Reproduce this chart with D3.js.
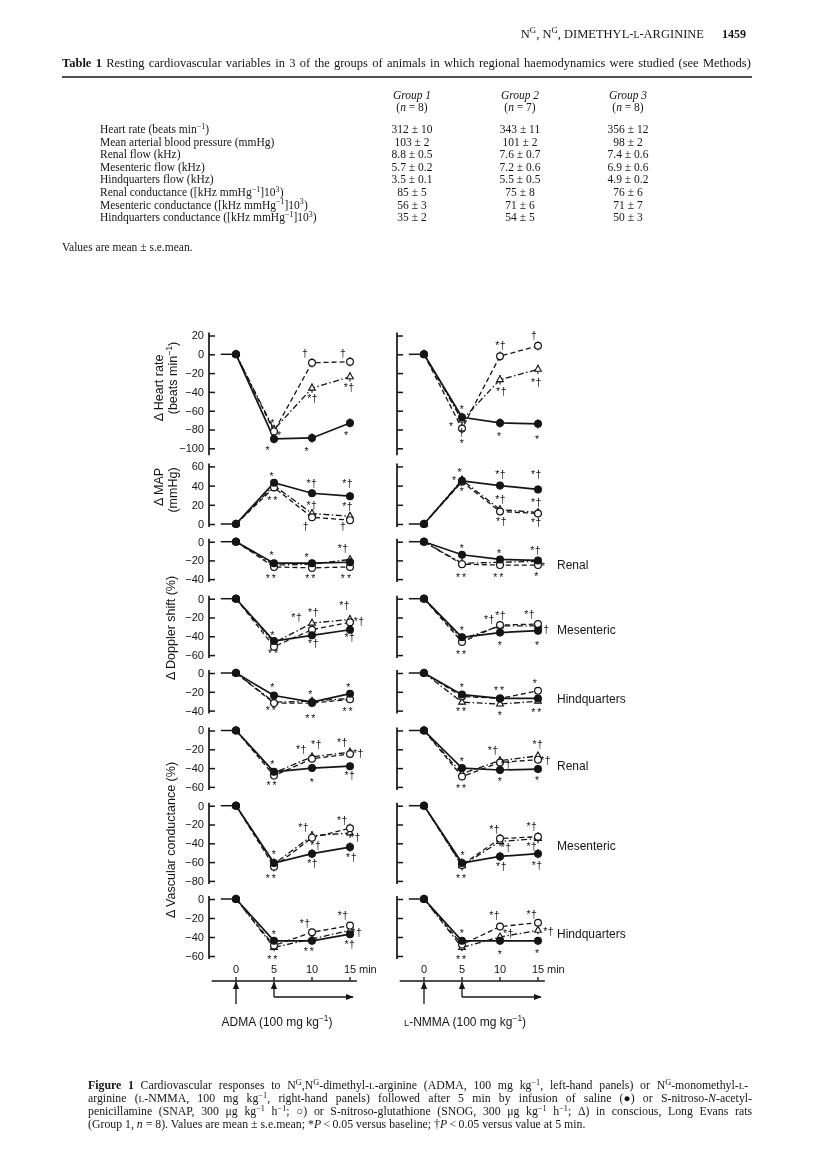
<!DOCTYPE html>
<html>
<head>
<meta charset="utf-8">
<script src="https://cdn.jsdelivr.net/npm/d3@7"></script>
<style>
    body { margin: 0; background: #fff; }
    svg { will-change: transform; }
    svg text { fill: #151515; }
    .serif { font-family: "Liberation Serif", "Times New Roman", serif; }
    .sans { font-family: "Liberation Sans", Arial, Helvetica, sans-serif; }
</style>
</head>
<body>
<svg id="page" width="816" height="1174"></svg>
<script>
// ---- table 1 ----
const rowLabels = [
    "Heart rate (beats min<sup>−1</sup>)",
    "Mean arterial blood pressure (mmHg)",
    "Renal flow (kHz)",
    "Mesenteric flow (kHz)",
    "Hindquarters flow (kHz)",
    "Renal conductance ([kHz mmHg<sup>−1</sup>]10<sup>3</sup>)",
    "Mesenteric conductance ([kHz mmHg<sup>−1</sup>]10<sup>3</sup>)",
    "Hindquarters conductance ([kHz mmHg<sup>−1</sup>]10<sup>3</sup>)"
];
const rowDecimals = [0, 0, 1, 1, 1, 0, 0, 0];
const groupNames = ["Group 1", "Group 2", "Group 3"];
const groupN = [8, 7, 8];
const g1Mean = [312, 103, 8.8, 5.7, 3.5, 85, 56, 35];
const g1Sem  = [10, 2, 0.5, 0.2, 0.1, 5, 3, 2];
const g2Mean = [343, 101, 7.6, 7.2, 5.5, 75, 71, 54];
const g2Sem  = [11, 2, 0.7, 0.6, 0.5, 8, 6, 5];
const g3Mean = [356, 98, 7.4, 6.9, 4.9, 76, 71, 50];
const g3Sem  = [12, 2, 0.6, 0.6, 0.2, 6, 7, 3];

// ---- figure 1 ----
const times = [0, 5, 10, 15];
const panelNames = ["Heart rate", "MAP", "Renal Doppler", "Mesenteric Doppler", "Hindquarters Doppler",
    "Renal conductance", "Mesenteric conductance", "Hindquarters conductance"];
const panelDomains = [[-100, 20], [0, 60], [-40, 0], [-60, 0], [-40, 0], [-60, 0], [-80, 0], [-60, 0]];
const panelTicks = [
    [20, 0, -20, -40, -60, -80, -100], [60, 40, 20, 0], [0, -20, -40], [0, -20, -40, -60],
    [0, -20, -40], [0, -20, -40, -60], [0, -20, -40, -60, -80], [0, -20, -40, -60]
];
const regionNames = ["", "", "Renal", "Mesenteric", "Hindquarters", "Renal", "Mesenteric", "Hindquarters"];

// each panel: [saline, SNAP, SNOG] at 0, 5, 10, 15 min
const admaHR     = [[0, -90, -89, -73], [0, -82, -9, -8], [0, -80, -36, -24]];
const admaMAP    = [[0, 43, 32, 29], [0, 38, 7, 4], [0, 40, 11, 8]];
const admaRenalD = [[0, -23, -23, -22], [0, -27, -28, -27], [0, -25, -24, -19]];
const admaMesD   = [[0, -45, -39, -33], [0, -51, -33, -25], [0, -47, -26, -22]];
const admaHqD    = [[0, -24, -31, -22], [0, -32, -32, -28], [0, -31, -30, -27]];
const admaRenalC = [[0, -44, -40, -38], [0, -48, -30, -25], [0, -45, -28, -23]];
const admaMesC   = [[0, -61, -51, -44], [0, -65, -34, -24], [0, -62, -32, -29]];
const admaHqC    = [[0, -44, -44, -37], [0, -49, -35, -28], [0, -51, -42, -33]];

const nmmaHR     = [[0, -67, -73, -74], [0, -79, -2, 9], [0, -70, -27, -16]];
const nmmaMAP    = [[0, 45, 40, 36], [0, 44, 13, 11], [0, 46, 15, 12]];
const nmmaRenalD = [[0, -14, -19, -20], [0, -24, -25, -25], [0, -23, -22, -21]];
const nmmaMesD   = [[0, -41, -36, -34], [0, -46, -28, -27], [0, -43, -29, -29]];
const nmmaHqD    = [[0, -23, -27, -27], [0, -25, -27, -19], [0, -31, -33, -30]];
const nmmaRenalC = [[0, -40, -42, -41], [0, -49, -34, -31], [0, -46, -32, -27]];
const nmmaMesC   = [[0, -61, -54, -51], [0, -63, -35, -33], [0, -64, -38, -35]];
const nmmaHqC    = [[0, -44, -44, -44], [0, -48, -29, -25], [0, -51, -40, -33]];

// s.e.mean (one typical value per panel)
const admaSem = [5, 4, 3, 4, 3, 4, 5, 4];
const nmmaSem = [5, 4, 3, 4, 3, 4, 5, 4];

// significance symbols: [label, time, value]
const admaMarks = [
    [["*", 4.8, -70], ["*", 5.7, -83], ["*", 4.2, -99], ["†", 9.1, 1], ["*†", 10.1, -47], ["*", 9.3, -100], ["†", 14.1, 1], ["*†", 14.9, -35], ["*", 14.5, -83]],
    [["*", 4.7, 53], ["**", 4.9, 28], ["*†", 10, 43], ["*†", 10, 20], ["†", 9.2, -2], ["*†", 14.7, 43], ["*†", 14.7, 19], ["†", 14.1, -2]],
    [["*", 4.7, -12], ["**", 4.7, -36], ["*", 9.3, -14], ["**", 9.9, -36], ["*†", 14.1, -7], ["**", 14.6, -36]],
    [["*", 4.8, -36], ["**", 5, -55], ["*†", 8, -20], ["*†", 10.2, -14], ["*†", 10.2, -47], ["*†", 14.3, -7], ["*†", 16.2, -24], ["*†", 15, -41]],
    [["*", 4.8, -12], ["**", 4.7, -37], ["*", 9.8, -20], ["**", 9.9, -45], ["*", 14.8, -12], ["**", 14.8, -38]],
    [["*", 4.8, -33], ["**", 4.8, -55], ["*†", 8.6, -20], ["*†", 10.6, -15], ["*", 10, -52], ["*†", 14, -12], ["*†", 16.1, -24], ["*†", 15, -48]],
    [["*", 5, -49], ["**", 4.7, -74], ["*†", 8.9, -23], ["*†", 10.5, -42], ["*†", 10.1, -61], ["*†", 14, -15], ["*†", 15.7, -33], ["*†", 15.2, -55]],
    [["*", 5, -34], ["**", 4.9, -60], ["*†", 9.1, -26], ["**", 9.7, -52], ["*†", 14.1, -17], ["*†", 15.9, -35], ["*†", 15, -48]]
];
const nmmaMarks = [
    [["*", 5, -56], ["*", 3.6, -74], ["†", 5, -83], ["*", 5, -92], ["*†", 10.1, 10], ["*†", 10.2, -39], ["*", 9.9, -84], ["†", 14.5, 20], ["*†", 14.8, -30], ["*", 14.9, -87]],
    [["*", 4.7, 57], ["*", 4, 48], ["*", 5, 37], ["*†", 10.1, 52], ["*†", 10.1, 26], ["*†", 10.2, 3], ["*†", 14.8, 52], ["*†", 14.8, 23], ["*†", 14.8, 2]],
    [["*", 5, -4], ["**", 5, -35], ["*", 9.9, -9], ["**", 9.9, -35], ["*†", 14.7, -9], ["*", 15.7, -23], ["*", 14.8, -34]],
    [["*", 5, -31], ["**", 5, -56], ["*†", 8.6, -22], ["*†", 10.1, -18], ["*", 10, -47], ["*†", 13.9, -17], ["*†", 15.8, -32], ["*", 14.9, -47]],
    [["*", 5, -12], ["**", 5, -38], ["**", 10, -15], ["*", 10, -42], ["*", 14.6, -8], ["**", 14.9, -39]],
    [["*", 5, -30], ["**", 5, -58], ["*†", 9.1, -21], ["*†", 10.8, -36], ["*", 10, -51], ["*†", 15, -15], ["*†", 16, -32], ["*", 14.9, -50]],
    [["*", 5.1, -50], ["**", 5, -74], ["*†", 9.3, -25], ["*†", 10.8, -44], ["*†", 10.2, -64], ["*†", 14.2, -22], ["*†", 14.2, -43], ["*†", 14.9, -63]],
    [["*", 5, -33], ["**", 5, -60], ["*†", 9.3, -17], ["*†", 11.1, -36], ["*", 10, -55], ["*†", 14.2, -16], ["*†", 16.4, -34], ["*", 14.9, -54]]
];

// ---------------- layout ----------------
const svg = d3.select("#page");
const ink = "#151515";

// tiny markup: <b> <i> <sup> <sc>
function rich(text, markup, size) {
    const st = { b: 0, i: 0, sup: 0, sc: 0 };
    let shift = 0;
    markup.split(/(<\/?(?:b|i|sup|sc)>)/).forEach(p => {
        const m = p.match(/^<(\/?)(b|i|sup|sc)>$/);
        if (m) { st[m[2]] += m[1] ? -1 : 1; return; }
        if (!p) return;
        const want = st.sup ? -size * 0.38 : 0;
        const ts = text.append("tspan").text(st.sc ? p.toUpperCase() : p);
        if (want !== shift) { ts.attr("dy", want - shift); shift = want; }
        if (st.b) ts.attr("font-weight", "bold");
        if (st.i) ts.attr("font-style", "italic");
        if (st.sup) ts.attr("font-size", size * 0.7);
        else if (st.sc) ts.attr("font-size", size * 0.78);
    });
    return text;
}

// stretch word gaps so a line fills the given width
function justify(text, width) {
    const nat = text.node().getComputedTextLength();
    const gaps = (text.text().match(/ /g) || []).length;
    if (gaps) text.attr("word-spacing", (width - nat) / gaps);
}

// page header
const head = svg.append("g").attr("class", "serif");
rich(head.append("text").attr("x", 704).attr("y", 38).attr("text-anchor", "end").attr("font-size", 12.5),
    "N<sup>G</sup>, N<sup>G</sup>, DIMETHYL-<sc>l</sc>-ARGININE", 12.5);
head.append("text").attr("x", 746).attr("y", 38).attr("text-anchor", "end")
    .attr("font-size", 12).attr("font-weight", "bold").text("1459");

// table
const tbl = svg.append("g").attr("class", "serif");
const ttl = rich(tbl.append("text").attr("x", 62).attr("y", 67).attr("font-size", 12.5),
    "<b>Table 1</b>  Resting cardiovascular variables in 3 of the groups of animals in which regional haemodynamics were studied (see Methods)", 12.5);
justify(ttl, 690);
tbl.append("line").attr("x1", 62).attr("x2", 752).attr("y1", 77).attr("y2", 77)
    .attr("stroke", ink).attr("stroke-width", 1.4);

const col = d3.scalePoint().domain(groupNames).range([412, 628]);
const row = d3.scaleLinear().domain([0, 1]).range([133, 145.6]);
groupNames.forEach((g, j) => {
    tbl.append("text").attr("x", col(g)).attr("y", 99).attr("text-anchor", "middle")
        .attr("font-size", 11.5).attr("font-style", "italic").text(g);
    rich(tbl.append("text").attr("x", col(g)).attr("y", 111).attr("text-anchor", "middle").attr("font-size", 11.5),
        `(<i>n</i> = ${groupN[j]})`, 11.5);
});
const means = [g1Mean, g2Mean, g3Mean], sems = [g1Sem, g2Sem, g3Sem];
rowLabels.forEach((lab, r) => {
    rich(tbl.append("text").attr("x", 100).attr("y", row(r)).attr("font-size", 11.5), lab, 11.5);
    groupNames.forEach((g, j) => {
        const f = d3.format(`.${rowDecimals[r]}f`);
        tbl.append("text").attr("x", col(g)).attr("y", row(r)).attr("text-anchor", "middle")
            .attr("font-size", 11.5).text(`${f(means[j][r])} ± ${f(sems[j][r])}`);
    });
});
tbl.append("text").attr("x", 62).attr("y", 251).attr("font-size", 11.5).text("Values are mean ± s.e.mean.");

// ---- figure ----
const fig = svg.append("g").attr("class", "sans");
const xLeft = d3.scaleLinear().domain([0, 15]).range([236, 350]);
const xRight = d3.scaleLinear().domain([0, 15]).range([424, 538]);
const zeroY = [354.3, 524, 541.7, 598.7, 673, 730.5, 805.7, 899];
const pxPerUnit = [0.94, 0.96, 0.935, 0.94, 0.94, 0.94, 0.94, 0.95];
const regionLabelAt = [0, 0, -25, -33, -27, -37, -42, -36];
const seriesDash = [null, "5,3", "6,2.5,1.5,2.5"];
const minus = d => d < 0 ? "−" + Math.abs(d) : String(d);

const sides = [
    { x: xLeft, axisX: 209, labels: true, sem: admaSem, marks: admaMarks,
      data: [admaHR, admaMAP, admaRenalD, admaMesD, admaHqD, admaRenalC, admaMesC, admaHqC],
      drug: "ADMA (100 mg kg<sup>−1</sup>)" },
    { x: xRight, axisX: 397, labels: false, sem: nmmaSem, marks: nmmaMarks,
      data: [nmmaHR, nmmaMAP, nmmaRenalD, nmmaMesD, nmmaHqD, nmmaRenalC, nmmaMesC, nmmaHqC],
      drug: "<sc>l</sc>-NMMA (100 mg kg<sup>−1</sup>)" }
];

const defs = svg.append("defs");
defs.append("marker").attr("id", "ah").attr("viewBox", "0 0 10 10").attr("refX", 9).attr("refY", 5)
    .attr("markerWidth", 6).attr("markerHeight", 6).attr("orient", "auto")
    .append("path").attr("d", "M0,1L10,5L0,9z").attr("fill", ink);

sides.forEach(side => {
    const x = side.x;
    panelNames.forEach((name, p) => {
        const y = d3.scaleLinear().domain([0, 1]).range([zeroY[p], zeroY[p] - pxPerUnit[p]]);
        const [lo, hi] = d3.extent(panelDomains[p]);
        const g = fig.append("g").attr("class", "panel");

        g.append("line").attr("x1", side.axisX).attr("x2", side.axisX)
            .attr("y1", y(hi) - 3).attr("y2", y(lo) + (p === 0 ? 7 : 3))
            .attr("stroke", ink).attr("stroke-width", 1.7);
        const ax = g.append("g").attr("transform", `translate(${side.axisX},0)`)
            .call(d3.axisRight(y).tickValues(panelTicks[p]).tickSize(6).tickSizeOuter(0).tickFormat(""));
        ax.select(".domain").remove();
        ax.selectAll(".tick line").attr("stroke", ink).attr("stroke-width", 1.5);

        if (side.labels) {
            g.selectAll(".tl").data(panelTicks[p]).enter().append("text")
                .attr("x", side.axisX - 5).attr("y", d => y(d)).attr("dy", "0.36em")
                .attr("text-anchor", "end").attr("font-size", 11).text(minus);
        } else if (regionNames[p]) {
            g.append("text").attr("x", 557).attr("y", y(regionLabelAt[p])).attr("dy", "0.36em")
                .attr("font-size", 12).text(regionNames[p]);
        }

        // baseline lead-in before time 0
        g.append("line").attr("x1", x(-2)).attr("x2", x(0)).attr("y1", y(0)).attr("y2", y(0))
            .attr("stroke", ink).attr("stroke-width", 1.5);

        const line = d3.line().x(d => x(d.t)).y(d => y(d.v));
        [2, 1, 0].forEach(s => {
            const pts = times.map((t, i) => ({ t, v: side.data[p][s][i] }));
            g.append("path").datum(pts).attr("d", line).attr("fill", "none")
                .attr("stroke", ink).attr("stroke-width", s === 0 ? 1.7 : 1.3)
                .attr("stroke-dasharray", seriesDash[s]);
            g.selectAll(null).data(pts.slice(1)).enter().append("line")
                .attr("x1", d => x(d.t)).attr("x2", d => x(d.t))
                .attr("y1", d => y(d.v - side.sem[p])).attr("y2", d => y(d.v + side.sem[p]))
                .attr("stroke", ink).attr("stroke-width", 1.1);
        });
        [2, 1, 0].forEach(s => {
            const pts = times.map((t, i) => ({ t, v: side.data[p][s][i] }));
            const m = g.selectAll(null).data(pts).enter();
            if (s === 2) {
                m.append("path").attr("d", d3.symbol(d3.symbolTriangle, 20))
                    .attr("transform", d => `translate(${x(d.t)},${y(d.v)})`)
                    .attr("fill", "#fff").attr("stroke", ink).attr("stroke-width", 1.1);
            } else {
                m.append("circle").attr("cx", d => x(d.t)).attr("cy", d => y(d.v)).attr("r", 3.4)
                    .attr("fill", s === 0 ? ink : "#fff").attr("stroke", ink).attr("stroke-width", 1.2);
            }
        });

        g.selectAll(".sig").data(side.marks[p]).enter().append("text")
            .attr("x", d => x(d[1])).attr("y", d => y(d[2]))
            .attr("dy", d => d[0].includes("†") ? "0.36em" : "0.62em")
            .attr("text-anchor", "middle").attr("font-size", 10.5)
            .attr("letter-spacing", d => d[0] === "**" ? 2 : 0.5)
            .text(d => d[0]);
    });

    // time axis with drug / infusion arrows
    const axY = 981;
    const t = fig.append("g");
    t.append("line").attr("x1", x(-3.2)).attr("x2", x(15.9)).attr("y1", axY).attr("y2", axY)
        .attr("stroke", ink).attr("stroke-width", 1.5);
    times.forEach(tt => {
        t.append("line").attr("x1", x(tt)).attr("x2", x(tt)).attr("y1", axY - 4).attr("y2", axY)
            .attr("stroke", ink).attr("stroke-width", 1.3);
        t.append("text").attr("x", x(tt)).attr("y", axY - 8).attr("text-anchor", "middle")
            .attr("font-size", 11).text(tt);
    });
    t.append("text").attr("x", x(15) + 9).attr("y", axY - 8).attr("font-size", 11).text("min");
    t.append("line").attr("x1", x(0)).attr("x2", x(0)).attr("y1", 1004).attr("y2", axY + 1)
        .attr("stroke", ink).attr("stroke-width", 1.3).attr("marker-end", "url(#ah)");
    t.append("line").attr("x1", x(5)).attr("x2", x(5)).attr("y1", 997).attr("y2", axY + 1)
        .attr("stroke", ink).attr("stroke-width", 1.3).attr("marker-end", "url(#ah)");
    t.append("line").attr("x1", x(5)).attr("x2", x(15.4)).attr("y1", 997).attr("y2", 997)
        .attr("stroke", ink).attr("stroke-width", 1.3).attr("marker-end", "url(#ah)");
    rich(t.append("text").attr("x", x(5.4)).attr("y", 1026).attr("text-anchor", "middle").attr("font-size", 12),
        side.drug, 12);
});

// y-axis titles
function vlabel(markup, cx, cy) {
    rich(fig.append("text").attr("transform", `translate(${cx},${cy}) rotate(-90)`)
        .attr("text-anchor", "middle").attr("font-size", 12.5), markup, 12.5);
}
vlabel("Δ Heart rate", 163, 388);
vlabel("(beats min<sup>−1</sup>)", 177, 378);
vlabel("Δ MAP", 163, 487);
vlabel("(mmHg)", 177, 490);
vlabel("Δ Doppler shift (%)", 175, 628);
vlabel("Δ Vascular conductance (%)", 175, 840);

// caption
const cap = svg.append("g").attr("class", "serif");
const capLines = [
    "<b>Figure 1</b>  Cardiovascular responses to N<sup>G</sup>,N<sup>G</sup>-dimethyl-<sc>l</sc>-arginine (ADMA, 100 mg kg<sup>−1</sup>, left-hand panels) or N<sup>G</sup>-monomethyl-<sc>l</sc>-",
    "arginine (<sc>l</sc>-NMMA, 100 mg kg<sup>−1</sup>, right-hand panels) followed after 5 min by infusion of saline (●) or S-nitroso-<i>N</i>-acetyl-",
    "penicillamine (SNAP, 300 μg kg<sup>−1</sup> h<sup>−1</sup>; ○) or S-nitroso-glutathione (SNOG, 300 μg kg<sup>−1</sup> h<sup>−1</sup>; Δ) in conscious, Long Evans rats",
    "(Group 1, <i>n</i> = 8). Values are mean ± s.e.mean; *<i>P</i>\u2009<\u20090.05 versus baseline; †<i>P</i>\u2009<\u20090.05 versus value at 5 min."
];
capLines.forEach((l, i) => {
    const txt = rich(cap.append("text").attr("x", 88).attr("y", 1089 + i * 13).attr("font-size", 11.8), l, 11.8);
    if (i < 3) justify(txt, 664);
});
</script>
</body>
</html>
